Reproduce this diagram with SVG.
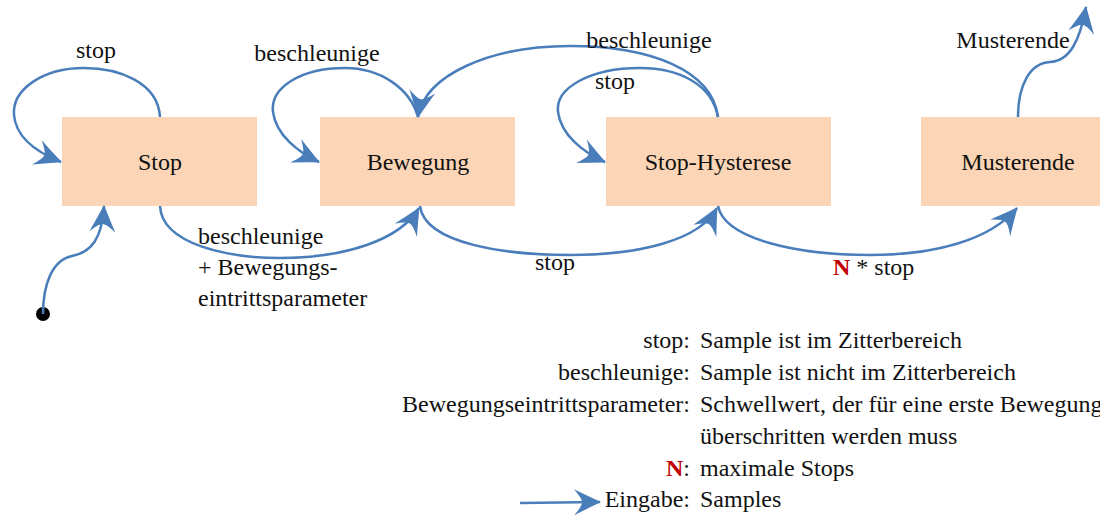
<svg xmlns="http://www.w3.org/2000/svg" width="1100" height="516" viewBox="0 0 1100 516">
  <style>
    text { font-family: "Liberation Serif", "DejaVu Serif", "Times New Roman", serif; font-size: 24px; fill: #111; }
    .node rect { fill: #FBD5B5; }
    .node text { text-anchor: middle; }
    .edge { fill: none; stroke: #4A7EBB; stroke-width: 2.5; marker-end: url(#arrow); }
    .key { text-anchor: end; }
    .n { fill: #C00000; font-weight: bold; }
  </style>
  <defs>
    <!-- barbed arrowhead, tip at the path end -->
    <marker id="arrow" viewBox="-28 -15 30 30" refX="0" refY="0" markerWidth="30" markerHeight="30" markerUnits="userSpaceOnUse" orient="auto">
      <path d="M1,0 Q-12,-6 -26,-13 Q-18,-4 -18,0 Q-18,4 -26,13 Q-12,6 1,0 Z" fill="#4A7EBB"/>
    </marker>
  </defs>

  <!-- states -->
  <g id="node-stop" class="node">
    <rect x="62" y="117" width="195" height="89"/>
    <text x="160" y="170">Stop</text>
  </g>
  <g id="node-bewegung" class="node">
    <rect x="320" y="117" width="195" height="89"/>
    <text x="418" y="170">Bewegung</text>
  </g>
  <g id="node-stop-hysterese" class="node">
    <rect x="606" y="117" width="225" height="89"/>
    <text x="718" y="170">Stop-Hysterese</text>
  </g>
  <g id="node-musterende" class="node">
    <rect x="921" y="117" width="179" height="89"/>
    <text x="1018" y="170">Musterende</text>
  </g>

  <!-- transitions -->
  <g id="connectors">
    <path class="edge" d="M160,117 C158,82 118,68 84,68 C42,68 12,90 14,115 C16,138 36,152 61,162"/>
    <circle cx="43" cy="314" r="7" fill="#000"/>
    <path class="edge" d="M43,314 C43,285 52,260 72,256 C92,252 102,238 104,206"/>
    <path class="edge" d="M160,206 C162,245 230,258 280,258 C345,258 400,240 419,208"/>
    <path class="edge" d="M418,117 C410,88 380,68 345,68 C300,68 270,88 273,112 C276,135 298,152 319,162"/>
    <path class="edge" d="M718,117 C712,70 650,46 570,46 C490,46 425,75 418,117"/>
    <path class="edge" d="M718,117 C712,85 680,68 640,68 C590,68 555,88 558,112 C561,135 583,152 605,162"/>
    <path class="edge" d="M420,206 C425,245 510,255 570,255 C640,255 700,240 717,208"/>
    <path class="edge" d="M718,206 C725,240 800,255 870,255 C935,255 990,240 1017,208"/>
    <path class="edge" d="M1018,117 C1018,85 1030,63 1050,62 C1070,61 1080,40 1086,7"/>
    <path class="edge" d="M520,503 L600,502"/>
  </g>

  <!-- transition labels -->
  <g id="edge-labels">
    <text x="96" y="58" text-anchor="middle">stop</text>
    <text x="317" y="61" text-anchor="middle">beschleunige</text>
    <text x="649" y="48" text-anchor="middle">beschleunige</text>
    <text x="615" y="89" text-anchor="middle">stop</text>
    <text x="198" y="244">beschleunige</text>
    <text x="198" y="275">+ Bewegungs-</text>
    <text x="198" y="306">eintrittsparameter</text>
    <text x="555" y="270" text-anchor="middle">stop</text>
    <text x="833" y="275"><tspan class="n">N</tspan> * stop</text>
    <text x="1013" y="48" text-anchor="middle">Musterende</text>
  </g>

  <!-- legend -->
  <g id="legend">
    <text class="key" x="690" y="348">stop:</text>
    <text x="700" y="348">Sample ist im Zitterbereich</text>
    <text class="key" x="690" y="380">beschleunige:</text>
    <text x="700" y="380">Sample ist nicht im Zitterbereich</text>
    <text class="key" x="690" y="412">Bewegungseintrittsparameter:</text>
    <text x="700" y="412">Schwellwert, der für eine erste Bewegung</text>
    <text x="700" y="444">überschritten werden muss</text>
    <text class="key" x="690" y="476"><tspan class="n">N</tspan>:</text>
    <text x="700" y="476">maximale Stops</text>
    <text class="key" x="690" y="507">Eingabe:</text>
    <text x="700" y="507">Samples</text>
  </g>
</svg>
